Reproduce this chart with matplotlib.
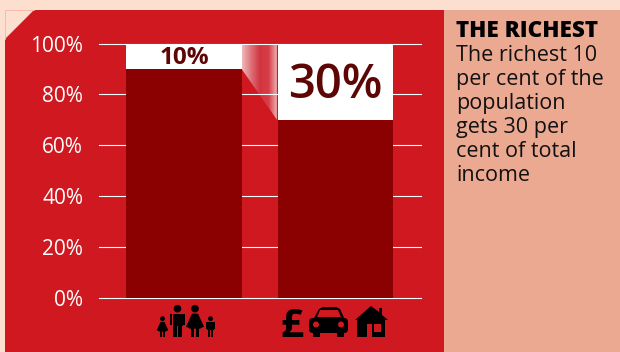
import numpy as np
import matplotlib
matplotlib.use("Agg")
import matplotlib.pyplot as plt
from matplotlib.patches import Polygon, Circle, Rectangle, FancyBboxPatch
from matplotlib.colors import LinearSegmentedColormap

groups = ["population", "income"]
rest_share = [90, 70]
richest_share = [10, 30]
share_labels = ["10%", "30%"]
tick_values = [0, 20, 40, 60, 80, 100]
tick_labels = ["0%", "20%", "40%", "60%", "80%", "100%"]
title = "THE RICHEST"
body_lines = ["The richest 10", "per cent of the", "population", "gets 30 per", "cent of total", "income"]

PAGE = "#FDDFD0"
RED = "#CF1820"
DARK = "#8B0000"
SALMON = "#EBA992"
LABEL = "#5E0505"
FONT = "Open Sans"

W, H = 620, 352


def person(ax, x, head_y, scale, dress=False):
    # Small pictogram figure, scale 1 is the adult size
    ax.add_patch(Circle((x, head_y), 3.8 * scale, color="black", lw=0))
    top = head_y + 5 * scale
    foot = head_y + 28.5 * scale
    if dress:
        ax.add_patch(Polygon([(x - 3 * scale, top), (x + 3 * scale, top), (x + 9 * scale, top + 13 * scale),
                              (x + 5 * scale, top + 15 * scale), (x - 5 * scale, top + 15 * scale),
                              (x - 9 * scale, top + 13 * scale)], color="black", lw=0))
        ax.add_patch(Rectangle((x - 4 * scale, top + 14 * scale), 3 * scale, foot - top - 14 * scale, color="black", lw=0))
        ax.add_patch(Rectangle((x + 1 * scale, top + 14 * scale), 3 * scale, foot - top - 14 * scale, color="black", lw=0))
    else:
        ax.add_patch(Rectangle((x - 5 * scale, top), 10 * scale, 12 * scale, color="black", lw=0))
        ax.add_patch(Rectangle((x - 7.5 * scale, top), 2 * scale, 11 * scale, color="black", lw=0))
        ax.add_patch(Rectangle((x + 5.5 * scale, top), 2 * scale, 11 * scale, color="black", lw=0))
        ax.add_patch(Rectangle((x - 4.5 * scale, top + 11 * scale), 4 * scale, foot - top - 11 * scale, color="black", lw=0))
        ax.add_patch(Rectangle((x + 0.5 * scale, top + 11 * scale), 4 * scale, foot - top - 11 * scale, color="black", lw=0))


def car(ax):
    ax.add_patch(FancyBboxPatch((309, 318), 39, 15, boxstyle="round,pad=0,rounding_size=4", color="black", lw=0))
    ax.add_patch(Polygon([(313, 320), (319, 309), (323, 307), (336, 307), (340, 309), (345, 320)], color="black", lw=0))
    ax.add_patch(Polygon([(317, 317), (320, 310), (338, 310), (341, 317)], color=RED, lw=0))
    ax.add_patch(Rectangle((313, 331), 7, 6, color="black", lw=0))
    ax.add_patch(Rectangle((337, 331), 7, 6, color="black", lw=0))
    ax.add_patch(Circle((316, 324.5), 3, color=RED, lw=0))
    ax.add_patch(Circle((341, 324.5), 3, color=RED, lw=0))


def house(ax):
    ax.add_patch(Polygon([(355, 320), (371, 306), (379, 312), (379, 308), (382, 308), (382, 315), (388, 320)], color="black", lw=0))
    ax.add_patch(Rectangle((357, 320), 28, 17, color="black", lw=0))
    ax.add_patch(Rectangle((366.5, 324), 5.5, 13, color=RED, lw=0))
    ax.add_patch(Rectangle((373.5, 323.5), 7.5, 8.5, color=RED, lw=0))


fig = plt.figure(figsize=(W / 100, H / 100), dpi=100, facecolor=PAGE)

# Page furniture in pixel coordinates
back = fig.add_axes([0, 0, 1, 1], zorder=0)
back.set_xlim(0, W)
back.set_ylim(H, 0)
back.axis("off")
back.add_patch(Polygon([(5, 39), (34, 10), (444, 10), (444, H), (5, H)], color=RED, lw=0))
back.add_patch(Rectangle((444, 10), W - 444, H - 10, color=SALMON, lw=0))
back.plot([5, 5, 34], [39, 10, 10], color="#F5B5A5", lw=0.6)

# Bar chart
ax = fig.add_axes([99 / W, 1 - 297.5 / H, 322 / W, 254 / H], zorder=1)
ax.patch.set_alpha(0)
x = np.arange(len(groups))
ax.set_xlim(-0.561, 1.564)
ax.set_ylim(0, 100)
for v in tick_values:
    ax.axhline(v, color="white", lw=0.8, zorder=3, clip_on=False)
ax.bar(x, rest_share, width=0.76, color=DARK, zorder=4)
ax.bar(x, richest_share, bottom=rest_share, width=0.76, color="white", zorder=4)

# Fold joining the top slice of the two bars
x0 = x[0] + 0.38
x1 = x[1] - 0.38
x1 = x0 + (x1 - x0) * 0.97
fold_cmap = LinearSegmentedColormap.from_list("fold", ["#EFB9B9", "#DE7078", "#D23540", "#D63E48", "#F0BDBD"])
fold = ax.imshow(np.linspace(0, 1, 64).reshape(1, -1), cmap=fold_cmap, extent=[x0, x1, rest_share[1], 100],
                 aspect="auto", zorder=2)
fold_edge = Polygon([(x0, 100), (x1, 100), (x1, rest_share[1]), (x0, rest_share[0])], transform=ax.transData,
                    fc="none", lw=0)
ax.add_patch(fold_edge)
fold.set_clip_path(fold_edge)
ax.set_xlim(-0.561, 1.564)
ax.set_ylim(0, 100)

ax.annotate(share_labels[0], (x[0], rest_share[0] + richest_share[0] / 2), xytext=(0, -1.5),
            textcoords="offset points", ha="center", va="center",
            fontsize=17.5, fontweight="bold", color=LABEL, family=FONT, zorder=5)
ax.annotate(share_labels[1], (x[1], rest_share[1] + richest_share[1] / 2), xytext=(0, -2.5),
            textcoords="offset points", ha="center", va="center",
            fontsize=34, fontweight="semibold", color=LABEL, family=FONT, zorder=5)

ax.set_yticks(tick_values)
ax.set_yticklabels(tick_labels, fontsize=15, color="white", family=FONT)
ax.set_xticks([])
ax.tick_params(axis="y", length=0, pad=11.5)
for side in ax.spines.values():
    side.set_visible(False)

# Pictograms under the bars
icons = fig.add_axes([0, 0, 1, 1], zorder=2)
icons.set_xlim(0, W)
icons.set_ylim(H, 0)
icons.axis("off")
person(icons, 162.5, 318.7, 0.64, dress=True)
person(icons, 177.5, 308.7, 1)
person(icons, 195, 308.7, 1, dress=True)
person(icons, 210.5, 318.7, 0.64)
icons.text(292, 337, "£", ha="center", va="baseline", fontsize=29, fontweight="bold", family=FONT, color="black")
car(icons)
house(icons)

# Side note
fig.text(456 / W, 1 - 37 / H, title, fontsize=16.2, fontweight="heavy", family=FONT, color="black", va="baseline")
for i, line in enumerate(body_lines):
    fig.text(456 / W, 1 - (61 + 24 * i) / H, line, fontsize=15.5, family=FONT, color="#111111", va="baseline", zorder=3)

fig.savefig("out.png", dpi=100, facecolor=PAGE)
